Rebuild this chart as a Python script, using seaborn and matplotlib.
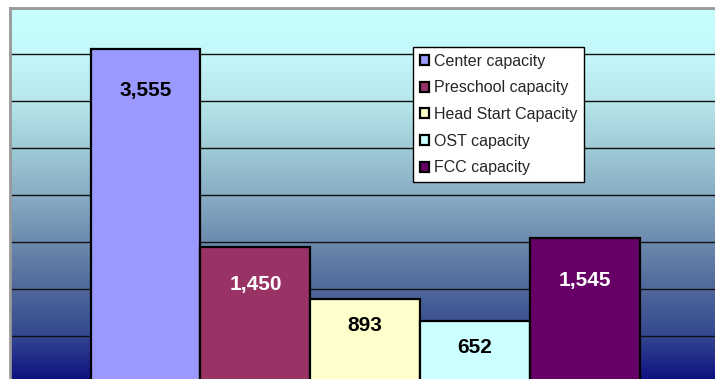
import numpy as np
import pandas as pd
import matplotlib
matplotlib.use("Agg")
import matplotlib.pyplot as plt
from matplotlib.colors import LinearSegmentedColormap
import seaborn as sns

# Capacity by program type
series = ["Center capacity", "Preschool capacity", "Head Start Capacity",
          "OST capacity", "FCC capacity"]
values = [3555, 1450, 893, 652, 1545]
bar_colors = ["#9999FF", "#993366", "#FFFFCC", "#CCFFFF", "#660066"]
label_colors = ["black", "white", "black", "black", "white"]
label_drop_px = [41, 38, 27, 26, 43]

df = pd.DataFrame({"group": ["All"] * len(series), "series": series, "value": values})

sns.set_theme(style="white")
plt.rcParams["font.family"] = ["Liberation Sans", "DejaVu Sans"]

W, H, DPI = 715, 379, 100
fig = plt.figure(figsize=(W / DPI, H / DPI), dpi=DPI)
fig.patch.set_facecolor("white")

left_px, right_px, top_px, bottom_px = 9.5, 721.0, 7.5, 382.5
ax = fig.add_axes([left_px / W, (H - bottom_px) / H,
                   (right_px - left_px) / W, (bottom_px - top_px) / H])

# vertical gradient backdrop, light cyan at the top to navy at the bottom
grad = LinearSegmentedColormap.from_list("bg", [
    (0.000, "#C8FFFF"),
    (0.120, "#C4F8FA"),
    (0.250, "#B6E6EA"),
    (0.375, "#9ECAD6"),
    (0.500, "#88ACC4"),
    (0.625, "#6C8AAE"),
    (0.750, "#50689A"),
    (0.875, "#344890"),
    (1.000, "#0C0C80"),
])
ax.imshow(np.linspace(0, 1, 256).reshape(-1, 1), cmap=grad, aspect="auto",
          extent=[0, 1, 0, 1], transform=ax.transAxes, zorder=0,
          interpolation="bicubic")

sns.barplot(data=df, x="group", y="value", hue="series", palette=bar_colors,
            width=0.772, saturation=1, edgecolor="black", linewidth=1.6,
            ax=ax, zorder=2)

ax.set_xlim(-0.5, 0.5)
ax.set_ylim(0, 4000)
ax.set_yticks(np.arange(0, 4001, 500))
ax.yaxis.grid(True, color="#111111", linewidth=1.0)
ax.set_axisbelow(True)
ax.tick_params(left=False, bottom=False, labelleft=False, labelbottom=False)
ax.set_xlabel("")
ax.set_ylabel("")

for side in ["right", "bottom"]:
    ax.spines[side].set_visible(False)
for side in ["left", "top"]:
    ax.spines[side].set_color("#999999")
    ax.spines[side].set_linewidth(2)

# value labels inside the top of each bar
bars = [p for p in ax.patches if p.get_height() > 0]
bars.sort(key=lambda p: p.get_x())
for p, v, c, d in zip(bars, values, label_colors, label_drop_px):
    ax.annotate(f"{v:,}", (p.get_x() + p.get_width() / 2, v),
                xytext=(0, -d * 72 / DPI), textcoords="offset points",
                ha="center", va="center", fontsize=15, fontweight="bold",
                color=c, zorder=5)

handles, labels = ax.get_legend_handles_labels()
leg = ax.legend(handles, labels, loc="upper left",
                bbox_to_anchor=((413 - left_px) / (right_px - left_px),
                                (bottom_px - 47) / (bottom_px - top_px)),
                borderaxespad=0, frameon=True, fancybox=False,
                edgecolor="black", facecolor="white", framealpha=1,
                fontsize=11.5, handlelength=0.6, handleheight=0.6,
                handletextpad=0.3, labelspacing=0.73, borderpad=0.42)
leg.get_frame().set_linewidth(1.0)
leg.set_zorder(10)

fig.savefig("out.png", dpi=DPI)
